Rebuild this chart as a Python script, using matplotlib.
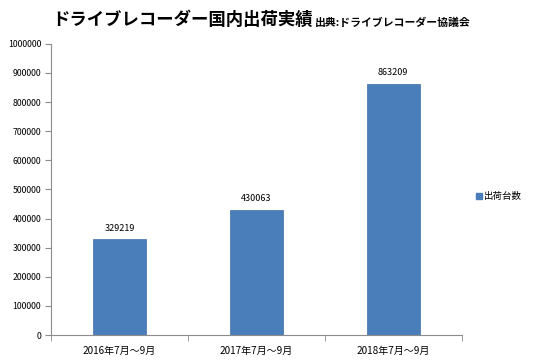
import matplotlib
matplotlib.use("Agg")
import matplotlib.pyplot as plt
from matplotlib.lines import Line2D

plt.rcParams['font.family'] = ['Noto Sans CJK JP', 'DejaVu Sans']

periods = ["2016年7月～9月", "2017年7月～9月", "2018年7月～9月"]
shipments = [329219, 430063, 863209]
series_name = "出荷台数"
title = "ドライブレコーダー国内出荷実績"
source = "出典:ドライブレコーダー協議会"

bar_color = "#4a7ebb"
axis_color = "#8c8c8c"

fig = plt.figure(figsize=(5.39, 3.63), dpi=100)
ax = fig.add_axes([0.0946, 0.0771, 0.762, 0.802])

x = list(range(len(periods)))
ax.bar(x, shipments, width=0.39, color=bar_color, edgecolor="#3f6fa8", linewidth=0.5)
for xi, v in zip(x, shipments):
    ax.text(xi, v + 22000, str(v), ha="center", va="bottom", fontsize=6.5)

ax.set_xlim(-0.5, len(periods) - 0.5)
ax.set_ylim(0, 1000000)
ax.set_yticks(range(0, 1000001, 100000))
ax.set_yticklabels([str(t) for t in range(0, 1000001, 100000)], fontsize=6.3)
ax.set_xticks(x)
ax.set_xticklabels(periods, fontsize=7.2)
ax.tick_params(axis="x", length=0, pad=8)
ax.set_xticks([-0.5, 0.5, 1.5, 2.5], minor=True)
ax.tick_params(axis="x", which="minor", length=4, color=axis_color, direction="out")
ax.tick_params(axis="y", length=4, color=axis_color, direction="out", pad=3)

for s in ["top", "right"]:
    ax.spines[s].set_visible(False)
for s in ["left", "bottom"]:
    ax.spines[s].set_color(axis_color)
    ax.spines[s].set_linewidth(0.8)

handle = Line2D([], [], marker="s", color=bar_color, linestyle="none", markersize=4.5)
fig.legend([handle], [series_name], loc="center left", bbox_to_anchor=(0.865, 0.458),
           frameon=False, fontsize=6.8, handletextpad=0.05, handlelength=0.9)

fig.text(0.097, 0.945, title, fontsize=12.5, fontweight="bold", va="center", ha="left")
fig.text(0.585, 0.938, source, fontsize=7.8, fontweight="bold", va="center", ha="left")

fig.savefig("out.png", dpi=100)
